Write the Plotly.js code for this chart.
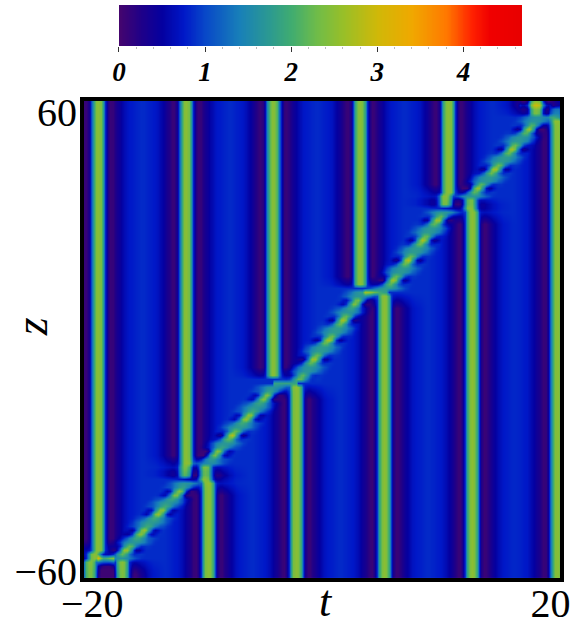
<!DOCTYPE html>
<html>
<head>
<meta charset="utf-8">
<script src="https://cdn.plot.ly/plotly-3.0.1.min.js"></script>
<style>body{margin:0;background:#fff}</style>
</head>
<body>
<div id="myViz" style="width:581px;height:631px"></div>
<script>
// colour scale
var colorVals = [0, 0.25, 0.5, 0.75, 1, 1.4, 1.75, 2, 2.3, 2.6, 3, 3.4, 3.8, 4.1, 4.3, 4.68];
var colorHex = ['#45056e','#1f0088','#0400a0','#0018c8','#0848c8','#1880b8','#2c9a90','#40ac70',
                '#70bc48','#98bf28','#d0b808','#f0a800','#ff7800','#ff2000','#f00000','#e80000'];

// vertical stripes: t, z top, z bottom, strength
var stripeT   = [-18.82,-19.16,-19.5,-11.43,-11.5,-4.12,3.19,10.59,10.34,17.98,-16.81,-9.83,-9.58,-2.18,5.21,12.44,12.6,19.75,19.6];
var stripeTop = [60,-53.5,-56,60,-32,60,60,60,36,60,-55.5,-32,-36,-12,11,35,32,55,58];
var stripeBot = [-53.5,-56,-60.5,-32,-35,-10,13,36,33,56,-60.5,-36,-60.5,-60.5,-60.5,32,-60.5,-60.5,55];
var stripeAmp = [1,1,1,1,1,1,1,1,1,1,1,1,1,1,1,1,1,1,0.5];

// moving stripe, one value per row from z=60 down to z=-60
var diagT = [
  null,null,null,null,18.2,17.95,17.66,17.38,17.09,16.8,
  16.5,16.2,15.94,15.65,15.37,15.08,14.8,14.5,14.2,13.93,
  13.65,13.36,13.07,12.8,12.5,null,null,null,10.2,9.94,
  9.69,9.44,9.2,8.95,8.7,8.45,8.2,7.95,7.7,7.45,
  7.2,6.95,6.7,6.45,6.2,5.95,5.7,5.45,3.45,3.2,
  2.96,2.72,2.47,2.23,1.98,1.74,1.5,1.25,1.0,0.76,
  0.52,0.27,0.03,-0.21,-0.46,-0.7,-0.95,-1.19,-1.43,-1.68,
  -1.9,null,-4.06,-4.35,-4.65,-4.94,-5.24,-5.53,-5.83,-6.12,
  -6.42,-6.71,-7.01,-7.3,-7.6,-7.89,-8.19,-8.48,-8.78,-9.07,
  -9.37,-9.66,null,null,null,null,-11.4,-11.7,-12,-12.3,
  -12.6,-12.9,-13.2,-13.5,-13.8,-14.1,-14.4,-14.7,-15,-15.3,
  -15.6,-15.9,-16.2,-16.5,-16.8,-17.1,null,null,null,null,
  null];
// how bright the moving stripe's knot is on that row
var diagBead = [
  0,0,0,0,0,0,0.5,1,0.5,0,
  0,0.5,1,0.5,0,0,0.5,1,0.5,0,
  0,0.5,1,0.5,0,0,0,0,0,0.5,
  1,0.5,0,0,0.5,1,0.5,0,0,0.5,
  1,0.5,0,0,0.5,1,0.5,0,0,0,
  0.7,0.8,0.2,0,0.5,1,0.5,0,0,0.5,
  1,0.5,0,0,0.5,1,0.5,0,0,0.5,
  0.5,0,0,0.2,0.8,0.8,0.2,0,0.2,0.8,
  0.8,0.2,0,0.5,1,0.5,0,0.2,0.8,0.8,
  0.2,0,0,0,0,0,0,0.2,0.8,0.8,
  0.2,0,0.2,0.8,0.8,0.2,0,0.2,0.8,0.8,
  0.2,0,0.5,1,0.5,0,0,0,0,0,
  0];

// thin links at the collisions: z row, t from, t to, lift
var linkZ  = [12,-11,-55,-56,59];
var linkT0 = [3.45,-4.1,-18.9,-18.9,16.6];
var linkT1 = [5.46,-2.1,-17.6,-17.6,19.4];
var linkUp = [0.9,1.0,1.1,0.6,0.5];

// cross sections read across the stripes, lift over the background value
var profileD  = [0,0.2,0.4,0.6,0.8,1,1.2,1.4,1.6,1.8,2,2.5,3.7];
var stripeP   = [1.65,1.55,1.0,0.05,-0.6,-0.77,-0.75,-0.62,-0.52,-0.42,-0.32,-0.12,0];
var beadP     = [1.95,1.6,0.95,0.2,-0.3,-0.47,-0.3,-0.12,0,0,0,0,0];
var neckP     = [0.9,0.9,0.85,0.75,0.63,0.47,0.32,0.2,0.1,0.04,0,0,0];
var background = 0.85;

var cbarTicks = [0,1,2,3,4];
var tTicks = [-19.3,19.2], tLabels = ['\u221220','20'];
var zTicks = [-58.2,57.2], zLabels = ['\u221260','60'];

function lookup(tab, d) {
  d = Math.abs(d);
  for (var i = 1; i < profileD.length; i++) {
    if (d < profileD[i]) {
      var f = (d - profileD[i-1]) / (profileD[i] - profileD[i-1]);
      return tab[i-1] + f * (tab[i] - tab[i-1]);
    }
  }
  return 0;
}

// dark edge of a stripe thins out near the end of its run
function fade(top, bot, zz) {
  var a = top >= 60 ? 99 : top - zz, b = bot <= -60 ? 99 : zz - bot;
  return Math.min(1, (Math.min(a, b) + 1) / 4);
}

var tGrid = [], zRows = [], image = [];
for (var i = 0; i <= 200; i++) tGrid.push(-20 + i * 0.2);
for (var r = 0; r <= 120; r++) zRows.push(60 - r);

for (r = 0; r <= 120; r++) {
  var zz = zRows[r], row = [];
  for (i = 0; i <= 200; i++) {
    var tt = tGrid[i], v = background;
    for (var s = 0; s < stripeT.length; s++) {
      if (zz <= stripeTop[s] && zz > stripeBot[s]) {
        var lift = stripeAmp[s] * lookup(stripeP, tt - stripeT[s]);
        v += lift < 0 ? lift * fade(stripeTop[s], stripeBot[s], zz) : lift;
      }
    }
    if (diagT[r] !== null) {
      var d = tt - diagT[r], b = diagBead[r];
      v += b * lookup(beadP, d) + (1 - b) * lookup(neckP, d);
    }
    for (s = 0; s < linkZ.length; s++) {
      if (zz === linkZ[s] && tt >= linkT0[s] && tt <= linkT1[s]) v += linkUp[s];
    }
    row.push(Math.max(v, 0.05));
  }
  image.push(row);
}

var scale = colorVals.map(function (c, k) { return [c / 4.68, colorHex[k]]; });

var cbarX = [];
for (i = 0; i <= 234; i++) cbarX.push(i * 0.02);

var field = {
  type: 'heatmap', x: tGrid, y: zRows, z: image,
  colorscale: scale, zmin: 0, zmax: 4.68, zsmooth: 'best', showscale: false
};
var bar = {
  type: 'heatmap', x: cbarX, y: [0, 1], z: [cbarX, cbarX], xaxis: 'x2', yaxis: 'y2',
  colorscale: scale, zmin: 0, zmax: 4.68, zsmooth: 'best', showscale: false
};

var serif = 'Liberation Serif, serif';
var layout = {
  width: 581, height: 631,
  margin: {l: 84, r: 21, t: 5, b: 53},
  paper_bgcolor: '#fff', showlegend: false,
  xaxis: {
    range: [-20, 20], showgrid: false, zeroline: false, ticks: '',
    tickvals: tTicks, ticktext: tLabels, tickfont: {family: serif, size: 40, color: '#000'},
    ticklabelstandoff: -13,
    showline: true, mirror: true, linewidth: 4, linecolor: '#000'
  },
  yaxis: {
    domain: [0, 0.8325], range: [-60, 60], showgrid: false, zeroline: false, ticks: '',
    tickvals: zTicks, ticktext: zLabels, tickfont: {family: serif, size: 40, color: '#000'},
    ticklabelstandoff: -5,
    showline: true, mirror: true, linewidth: 4, linecolor: '#000'
  },
  xaxis2: {
    domain: [0.0735, 0.92], range: [0, 4.68], anchor: 'y2', showgrid: false, zeroline: false,
    tickvals: cbarTicks, ticks: 'outside', ticklen: 5, tickwidth: 1, tickcolor: '#333',
    tickfont: {family: serif, size: 27, color: '#000', style: 'italic', weight: 'bold'},
    ticklabelstandoff: -3,
    minor: {dtick: 0.2, ticks: 'outside', ticklen: 2, tickcolor: '#bbb'}
  },
  yaxis2: {
    domain: [0.9284, 1], range: [0, 1], anchor: 'x2', showticklabels: false, ticks: '',
    showgrid: false, zeroline: false
  },
  annotations: [
    {text: 't', xref: 'paper', yref: 'paper', x: 0.508, y: -0.088, showarrow: false,
     font: {family: serif, size: 44, style: 'italic', color: '#000'}},
    {text: 'z', xref: 'paper', yref: 'paper', x: -0.111, y: 0.438, xanchor: 'center', yanchor: 'middle',
     showarrow: false, textangle: -90,
     font: {family: serif, size: 46, style: 'italic', color: '#000'}}
  ]
};

Plotly.newPlot('myViz', [field, bar], layout, {displayModeBar: false});
</script>
</body>
</html>
